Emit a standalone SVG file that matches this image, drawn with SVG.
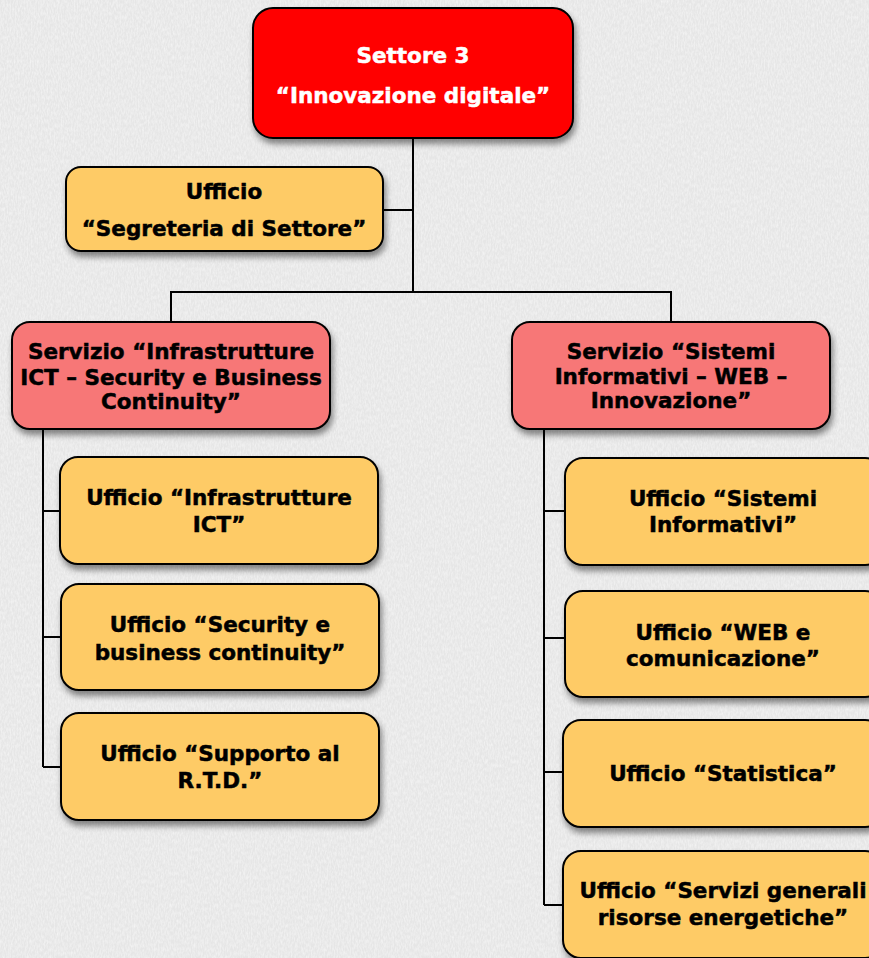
<svg xmlns="http://www.w3.org/2000/svg" width="869" height="958" viewBox="0 0 869 958">
<defs>
<filter id="tex" x="0" y="0" width="100%" height="100%">
<feTurbulence type="fractalNoise" baseFrequency="0.7 0.25" numOctaves="3" seed="4" result="n"/>
<feColorMatrix in="n" type="matrix" values="0 0 0 0 1  0 0 0 0 1  0 0 0 0 1  0 0 0 0.9 -0.3" result="g"/>
<feComposite in="g" in2="SourceGraphic" operator="over"/>
</filter>
<filter id="sh" x="-10%" y="-10%" width="125%" height="135%">
<feGaussianBlur in="SourceAlpha" stdDeviation="3"/>
<feOffset dx="2" dy="5" result="b"/>
<feComponentTransfer><feFuncA type="linear" slope="0.45"/></feComponentTransfer>
<feMerge><feMergeNode/><feMergeNode in="SourceGraphic"/></feMerge>
</filter>
<style>
.box{stroke:#000;stroke-width:2;filter:url(#sh)}
.red{fill:#FF0000}
.sal{fill:#F77777}
.yel{fill:#FECB66}
text{font-family:"DejaVu Sans","Liberation Sans",sans-serif;font-weight:bold;font-size:21.5px;text-anchor:middle;fill:#000;stroke:#000;stroke-width:0.5}
.w{fill:#fff;stroke:#fff}
.c{fill:none;stroke:#000;stroke-width:2}
</style>
</defs>
<rect width="869" height="958" fill="#E6E6E6" filter="url(#tex)"/>
<g id="connectors">
<path class="c" d="M413 138V292M383 210H413M171 322V292H671V322"/>
<path class="c" d="M43 429V767M43 511H60M43 637H60M43 767H60"/>
<path class="c" d="M544 429V905M544 511H565M544 638H565M544 772H565M544 905H565"/>
</g>
<g id="settore3">
<rect class="box red" x="253" y="8" width="320" height="130" rx="20"/>
<text class="w" x="413" y="63">Settore 3</text>
<text class="w" x="413" y="103">“Innovazione digitale”</text>
</g>
<g id="segreteria">
<rect class="box yel" x="66" y="167" width="317" height="84" rx="15"/>
<text x="224" y="199">Ufficio</text>
<text x="224" y="236">“Segreteria di Settore”</text>
</g>
<g id="servizio-ict">
<rect class="box sal" x="12" y="322" width="318" height="107" rx="18"/>
<text x="171" y="359">Servizio “Infrastrutture</text>
<text x="171" y="385">ICT – Security e Business</text>
<text x="171" y="409">Continuity”</text>
</g>
<g id="servizio-si">
<rect class="box sal" x="512" y="322" width="318" height="107" rx="18"/>
<text x="671" y="359">Servizio “Sistemi</text>
<text x="671" y="384">Informativi – WEB –</text>
<text x="671" y="408">Innovazione”</text>
</g>
<g id="uff-ict">
<rect class="box yel" x="60" y="457" width="318" height="107" rx="18"/>
<text x="219" y="505">Ufficio “Infrastrutture</text>
<text x="219" y="532">ICT”</text>
</g>
<g id="uff-security">
<rect class="box yel" x="61" y="584" width="318" height="106" rx="18"/>
<text x="220" y="632">Ufficio “Security e</text>
<text x="220" y="660">business continuity”</text>
</g>
<g id="uff-rtd">
<rect class="box yel" x="61" y="713" width="318" height="107" rx="18"/>
<text x="220" y="761">Ufficio “Supporto al</text>
<text x="220" y="788">R.T.D.”</text>
</g>
<g id="uff-si">
<rect class="box yel" x="565" y="458" width="318" height="107" rx="18"/>
<text x="723" y="506">Ufficio “Sistemi</text>
<text x="723" y="532">Informativi”</text>
</g>
<g id="uff-web">
<rect class="box yel" x="565" y="591" width="318" height="106" rx="18"/>
<text x="723" y="640">Ufficio “WEB e</text>
<text x="723" y="666">comunicazione”</text>
</g>
<g id="uff-statistica">
<rect class="box yel" x="563" y="720" width="320" height="107" rx="18"/>
<text x="723" y="781">Ufficio “Statistica”</text>
</g>
<g id="uff-servizi">
<rect class="box yel" x="563" y="851" width="320" height="107" rx="18"/>
<text x="723" y="898">Ufficio “Servizi generali</text>
<text x="723" y="925">risorse energetiche”</text>
</g>
</svg>
